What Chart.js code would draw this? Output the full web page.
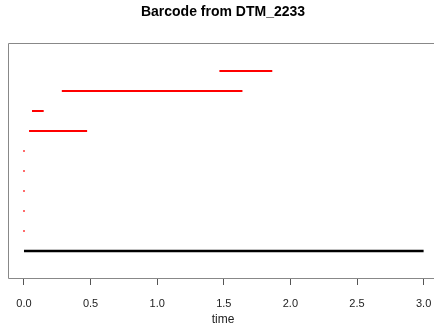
<!DOCTYPE html>
<html>
<head>
<meta charset="utf-8">
<script src="https://cdn.jsdelivr.net/npm/chart.js@4"></script>
<style>
html,body{margin:0;padding:0;background:#fff;}
#wrap{width:434px;height:326px;}
</style>
</head>
<body>
<div id="wrap"><canvas id="c" width="434" height="326"></canvas></div>
<script>
// Barcode intervals (birth, death) and their row index
const births = [0.0, 0.0, 0.0, 0.0, 0.0, 0.0, 0.038, 0.060, 0.284, 1.467];
const deaths = [3.0, 0.0, 0.0, 0.0, 0.0, 0.0, 0.474, 0.148, 1.640, 1.864];
const rows   = [1, 2, 3, 4, 5, 6, 7, 8, 9, 10];
const colors = ['#000000', '#ff0000', '#ff0000', '#ff0000', '#ff0000', '#ff0000', '#ff0000', '#ff0000', '#ff0000', '#ff0000'];
const xTicks = [0, 0.5, 1, 1.5, 2, 2.5, 3];
const titleText = 'Barcode from DTM_2233';
const xLabel = 'time';

const datasets = births.map((b, i) => {
  const zero = deaths[i] === b;
  return {
    data: [{x: b, y: rows[i]}, {x: deaths[i], y: rows[i]}],
    borderColor: colors[i],
    backgroundColor: colors[i],
    borderWidth: i === 0 ? 2.5 : 2,
    pointRadius: zero ? 1 : 0,
    pointBorderWidth: 0,
    pointBackgroundColor: 'rgba(255,80,80,0.8)',
    showLine: !zero,
    fill: false
  };
});

const boxPlugin = {
  id: 'box',
  afterDraw(chart) {
    const {ctx, chartArea: a} = chart;
    ctx.save();
    ctx.strokeStyle = '#888';
    ctx.lineWidth = 1;
    ctx.beginPath();
    ctx.moveTo(a.right + 10, a.top + 0.5);
    ctx.lineTo(a.left + 0.5, a.top + 0.5);
    ctx.lineTo(a.left + 0.5, a.bottom + 0.5);
    ctx.lineTo(a.right + 10, a.bottom + 0.5);
    ctx.stroke();
    ctx.fillStyle = '#000';
    ctx.font = 'bold 14px "Liberation Sans", Arial, sans-serif';
    ctx.textAlign = 'center';
    ctx.textBaseline = 'middle';
    ctx.fillText(titleText, 223, 12);
    ctx.font = '12px "Liberation Sans", Arial, sans-serif';
    ctx.fillStyle = '#222';
    ctx.fillText(xLabel, 223, 320);
    ctx.restore();
  }
};

new Chart(document.getElementById('c'), {
  type: 'scatter',
  data: {datasets},
  options: {
    responsive: false,
    animation: false,
    events: [],
    layout: {padding: {top: 43, left: 8, right: 0, bottom: 0}},
    plugins: {legend: {display: false}, tooltip: {enabled: false}, title: {display: false}},
    scales: {
      x: {
        type: 'linear',
        min: -0.12,
        max: 3.048,
        afterBuildTicks(scale) { scale.ticks = xTicks.map(v => ({value: v})); },
        afterFit(scale) { scale.height = 48; scale.paddingRight = 0; scale.paddingLeft = 0; },
        border: {display: false},
        grid: {drawOnChartArea: false, drawTicks: true, tickLength: 7, tickColor: '#555', offset: false},
        ticks: {
          padding: 12,
          color: '#222',
          font: {family: '"Liberation Sans", Arial, sans-serif', size: 11},
          maxRotation: 0,
          callback: v => Number(v).toFixed(1)
        }
      },
      y: {
        type: 'linear',
        display: false,
        min: -0.35,
        max: 11.4
      }
    }
  },
  plugins: [boxPlugin]
});
</script>
</body>
</html>
